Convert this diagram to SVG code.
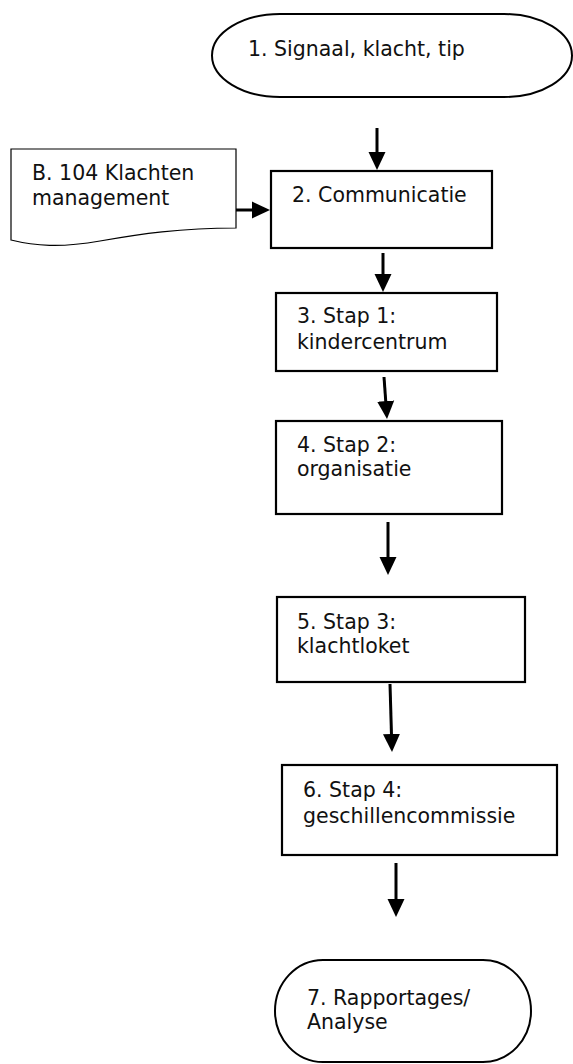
<svg xmlns="http://www.w3.org/2000/svg" width="573" height="1064" viewBox="0 0 573 1064">
<style>
  .box { fill: #fff; stroke: #000; stroke-width: 2.2; }
  .term { fill: #fff; stroke: #000; stroke-width: 2; }
  .doc { fill: #fff; stroke: #000; stroke-width: 1.2; }
  .lbl { font-family: "DejaVu Sans", "Liberation Sans", sans-serif; font-size: 20.5px; fill: #111; }
  .conn { stroke: #000; stroke-width: 3; fill: none; marker-end: url(#ah); }
</style>
<defs>
  <marker id="ah" markerUnits="userSpaceOnUse" markerWidth="18" markerHeight="18" refX="8" refY="9" orient="auto">
    <path d="M0,0.5 L18,9 L0,17.5 Z" fill="#000"/>
  </marker>
</defs>
<rect width="573" height="1064" fill="#fff"/>
<g id="connectors">
  <line class="conn" x1="377" y1="128" x2="377" y2="160"/>
  <line class="conn" x1="236" y1="210" x2="260" y2="210"/>
  <line class="conn" x1="383" y1="253" x2="383" y2="282"/>
  <line class="conn" x1="384" y1="377" x2="386.3" y2="409"/>
  <line class="conn" x1="388" y1="522" x2="388" y2="565"/>
  <line class="conn" x1="390" y1="684" x2="391.7" y2="742"/>
  <line class="conn" x1="396" y1="863" x2="396" y2="907"/>
</g>
<g id="n1">
  <rect class="term" x="212" y="14" width="360" height="83" rx="68" ry="41.5"/>
  <text class="lbl" x="248" y="56">1. Signaal, klacht, tip</text>
</g>
<g id="nB">
  <path class="doc" d="M11,149 H236 V228 C180,228 140,234 100,241 C60,248 35,246 11,240 Z"/>
  <text class="lbl" x="32" y="180">B. 104 Klachten</text>
  <text class="lbl" x="32" y="205">management</text>
</g>
<g id="n2">
  <rect class="box" x="271" y="171" width="221" height="77"/>
  <text class="lbl" x="292" y="202">2. Communicatie</text>
</g>
<g id="n3">
  <rect class="box" x="276" y="293" width="221" height="78"/>
  <text class="lbl" x="297" y="323">3. Stap 1:</text>
  <text class="lbl" x="297" y="349">kindercentrum</text>
</g>
<g id="n4">
  <rect class="box" x="276" y="421" width="226" height="93"/>
  <text class="lbl" x="297" y="452">4. Stap 2:</text>
  <text class="lbl" x="297" y="476">organisatie</text>
</g>
<g id="n5">
  <rect class="box" x="277" y="597" width="248" height="85"/>
  <text class="lbl" x="297" y="629">5. Stap 3:</text>
  <text class="lbl" x="297" y="653">klachtloket</text>
</g>
<g id="n6">
  <rect class="box" x="282" y="765" width="275" height="90"/>
  <text class="lbl" x="303" y="797">6. Stap 4:</text>
  <text class="lbl" x="303" y="823">geschillencommissie</text>
</g>
<g id="n7">
  <rect class="term" x="275" y="960" width="256" height="102" rx="48" ry="51"/>
  <text class="lbl" x="307" y="1005">7. Rapportages/</text>
  <text class="lbl" x="307" y="1029">Analyse</text>
</g>
</svg>
